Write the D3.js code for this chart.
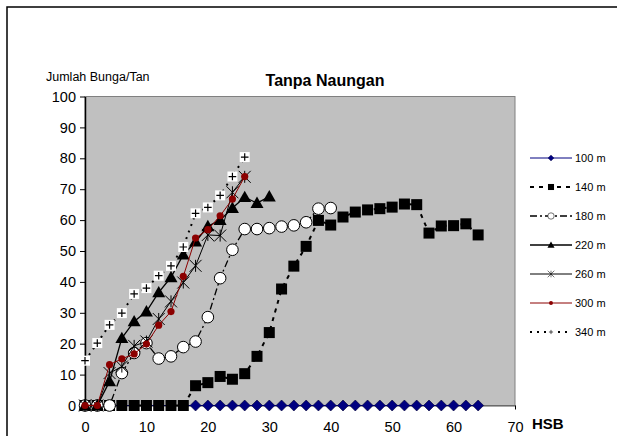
<!DOCTYPE html>
<html>
<head>
<meta charset="utf-8">
<script src="https://cdn.jsdelivr.net/npm/d3@7"></script>
<style>
  html, body { margin: 0; padding: 0; background: #fff; }
  svg { display: block; font-family: Arial, "Liberation Sans", sans-serif; }
</style>
</head>
<body>
<svg id="chart" width="617" height="436"></svg>
<script>
// Flower counts per plant (Jumlah Bunga/Tan) against days after sowing (HSB)
const xTicks = [0, 10, 20, 30, 40, 50, 60, 70];
const yTicks = [0, 10, 20, 30, 40, 50, 60, 70, 80, 90, 100];

const hsb100 = d3.range(0, 65, 2);
const val100 = hsb100.map(() => 0);

const hsb140 = d3.range(0, 65, 2);
const val140 = [0, 0, 0, 0, 0, 0, 0, 0, 0, 6.4, 7.4, 9.4, 8.5, 10.3, 15.9, 23.6, 37.7,
  45.1, 51.5, 59.9, 58.4, 61, 62.6, 63.3, 63.7, 64.2, 65.2, 65, 55.8, 58.1, 58.2, 58.8, 55.2];

const hsb180 = d3.range(0, 41, 2);
const val180 = [0, 0, 0, 10.5, 17, 20.2, 15.2, 15.9, 18.9, 20.7, 28.6, 41.2, 50.4, 57.1,
  57.1, 57.4, 57.9, 58.3, 59.3, 63.7, 63.9];

const hsb220 = d3.range(0, 31, 2);
const val220 = [0, 0, 7.8, 21.8, 27.2, 30.4, 36.6, 41.5, 48.8, 53, 58, 60, 63.9, 67.4, 65.5, 67.6];

const hsb260 = d3.range(0, 27, 2);
const val260 = [0, 0, 10.5, 12.6, 19.3, 20.7, 28, 33.7, 39.8, 45.2, 55.2, 55, 69, 74];

const hsb300 = d3.range(0, 27, 2);
const val300 = [0, 0, 13.2, 15.1, 16.7, 19.9, 26, 30.4, 41.8, 54.2, 56.9, 61.4, 66.8, 74.1];

const hsb340 = d3.range(0, 27, 2);
const val340 = [14.5, 20.2, 26.1, 29.9, 36.1, 38, 42, 45.2, 51.3, 62.2, 64.1, 68, 74.1, 80.4];

const seriesNames = ["100 m", "140 m", "180 m", "220 m", "260 m", "300 m", "340 m"];

const series = [
  { name: seriesNames[0], xs: hsb100, ys: val100, color: "#000080", width: 1, dash: null, marker: "diamond" },
  { name: seriesNames[1], xs: hsb140, ys: val140, color: "#000", width: 2, dash: "4,5", marker: "square" },
  { name: seriesNames[2], xs: hsb180, ys: val180, color: "#000", width: 1.3, dash: "7,3,2,3", marker: "circle" },
  { name: seriesNames[3], xs: hsb220, ys: val220, color: "#000", width: 1.3, dash: null, marker: "triangle" },
  { name: seriesNames[4], xs: hsb260, ys: val260, color: "#000", width: 1, dash: null, marker: "star" },
  { name: seriesNames[5], xs: hsb300, ys: val300, color: "#8b0000", width: 1, dash: null, marker: "dot" },
  { name: seriesNames[6], xs: hsb340, ys: val340, color: "#000", width: 2, dash: "2,5", marker: "plus" }
];

const svg = d3.select("#chart");

// outer chart frame
svg.append("rect").attr("x", 7).attr("y", 7).attr("width", 700).attr("height", 500)
  .attr("fill", "#fff").attr("stroke", "#000").attr("stroke-width", 1.5);

const x = d3.scaleLinear().domain([0, 70]).range([85, 515]);
const y = d3.scaleLinear().domain([0, 100]).range([405.5, 96.5]);

// plot area
svg.append("rect").attr("x", x(0)).attr("y", y(100))
  .attr("width", x(70) - x(0)).attr("height", y(0) - y(100))
  .attr("fill", "#c0c0c0").attr("stroke", "#808080").attr("stroke-width", 1);

// axes
const yAxis = svg.append("g").attr("transform", `translate(${x(0)},0)`)
  .call(d3.axisLeft(y).tickValues(yTicks).tickSize(5).tickPadding(4).tickSizeOuter(0));
const xAxis = svg.append("g").attr("transform", `translate(0,${y(0)})`)
  .call(d3.axisBottom(x).tickValues(xTicks).tickSize(4).tickPadding(12).tickSizeOuter(0));
[yAxis, xAxis].forEach(a => {
  a.selectAll("text").attr("font-size", 14.5).attr("font-family", "Arial, 'Liberation Sans', sans-serif").attr("fill", "#000");
  a.selectAll("line").attr("stroke", "#000");
});
yAxis.select(".domain").attr("stroke", "#000").attr("stroke-width", 1.5);
xAxis.select(".domain").attr("stroke", "#555");

// marker painter
function drawMarker(g, kind, cx, cy, color) {
  switch (kind) {
    case "diamond": {
      const s = 5.5;
      g.append("path").attr("d", `M${cx},${cy - s}L${cx + s},${cy}L${cx},${cy + s}L${cx - s},${cy}Z`)
        .attr("fill", "#000080").attr("stroke", "#000033").attr("stroke-width", 0.6);
      break;
    }
    case "square":
      g.append("rect").attr("x", cx - 5.5).attr("y", cy - 5.5).attr("width", 11).attr("height", 11)
        .attr("fill", "#000");
      break;
    case "circle":
      g.append("circle").attr("cx", cx).attr("cy", cy).attr("r", 5.8)
        .attr("fill", "#fff").attr("stroke", "#000").attr("stroke-width", 1);
      break;
    case "triangle": {
      const s = 6.5;
      g.append("path").attr("d", `M${cx},${cy - s}L${cx + s},${cy + s * 0.75}L${cx - s},${cy + s * 0.75}Z`)
        .attr("fill", "#000");
      break;
    }
    case "star": {
      const s = 6;
      g.append("path").attr("d",
        `M${cx - s},${cy - s}L${cx + s},${cy + s}M${cx - s},${cy + s}L${cx + s},${cy - s}M${cx},${cy - s}L${cx},${cy + s}`)
        .attr("stroke", "#000").attr("stroke-width", 1).attr("fill", "none");
      break;
    }
    case "dot":
      g.append("circle").attr("cx", cx).attr("cy", cy).attr("r", 3.6).attr("fill", color);
      break;
    case "plus": {
      g.append("rect").attr("x", cx - 5).attr("y", cy - 5).attr("width", 10).attr("height", 10).attr("fill", "#fff");
      const s = 3.8;
      g.append("path").attr("d", `M${cx - s},${cy}L${cx + s},${cy}M${cx},${cy - s}L${cx},${cy + s}`)
        .attr("stroke", "#000").attr("stroke-width", 1.2);
      break;
    }
  }
}

const line = d3.line().x(d => x(d[0])).y(d => y(d[1]));

// each series is painted in turn: its line, then its markers
series.forEach(s => {
  const pts = s.xs.map((v, i) => [v, s.ys[i]]);
  const g = svg.append("g");
  g.append("path").datum(pts).attr("d", line)
    .attr("fill", "none").attr("stroke", s.color).attr("stroke-width", s.width)
    .attr("stroke-dasharray", s.dash);
  pts.forEach(p => drawMarker(g, s.marker, x(p[0]), y(p[1]), s.color));
});

// legend
const legendMarkerScale = 0.55;
series.forEach((s, i) => {
  const ly = 158 + i * 29;
  const g = svg.append("g");
  g.append("line").attr("x1", 530).attr("x2", 572).attr("y1", ly).attr("y2", ly)
    .attr("stroke", s.color).attr("stroke-width", s.width)
    .attr("stroke-dasharray", s.dash);
  const mg = g.append("g").attr("transform", `translate(551,${ly}) scale(${legendMarkerScale})`);
  drawMarker(mg, s.marker, 0, 0, s.color);
  g.append("text").attr("x", 575).attr("y", ly).attr("dy", "0.35em")
    .attr("font-size", 11).attr("fill", "#000").text(s.name);
});

// titles
svg.append("text").attr("x", 325).attr("y", 80).attr("dy", "0.35em").attr("text-anchor", "middle")
  .attr("font-size", 16).attr("font-weight", "bold").text("Tanpa Naungan");
svg.append("text").attr("x", 46).attr("y", 77).attr("dy", "0.35em")
  .attr("font-size", 12.5).text("Jumlah Bunga/Tan");
svg.append("text").attr("x", 532).attr("y", 424).attr("dy", "0.35em")
  .attr("font-size", 15).attr("font-weight", "bold").text("HSB");
</script>
</body>
</html>
